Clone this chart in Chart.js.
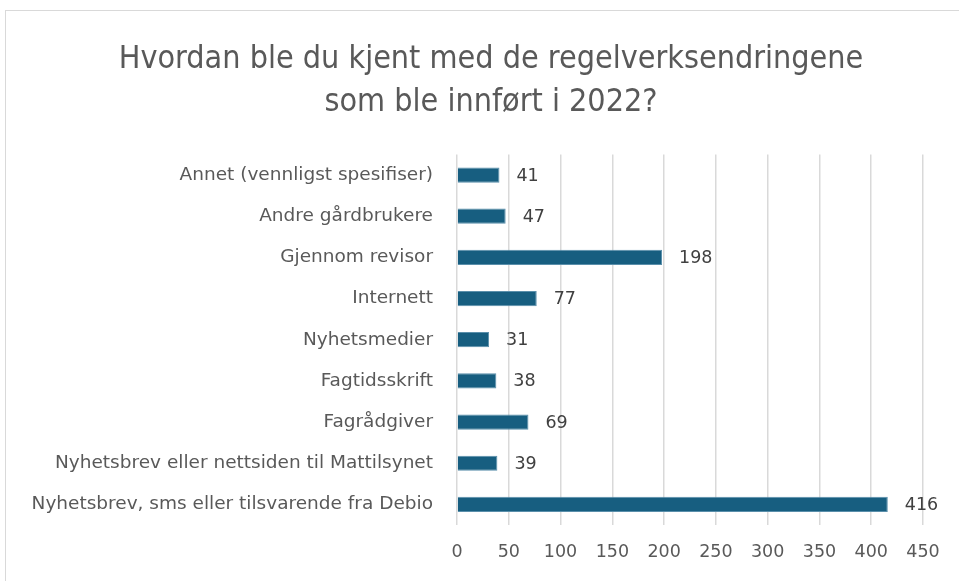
<!DOCTYPE html>
<html>
<head>
<meta charset="utf-8">
<script src="https://cdn.jsdelivr.net/npm/chart.js@4"></script>
<style>
  html, body { margin: 0; padding: 0; background: #fff; }
  #frame { position: absolute; left: 5px; top: 10px; width: 1000px; height: 620px; border: 1px solid #d9d9d9; }
  #wrap { position: absolute; left: 0; top: 0; width: 959px; height: 581px; }
</style>
</head>
<body>
<div id="frame"></div>
<div id="wrap"><canvas id="chart"></canvas></div>
<script>
// kategorier og antall svar
var kategorier = [
    "Annet (vennligst spesifiser)",
    "Andre gårdbrukere",
    "Gjennom revisor",
    "Internett",
    "Nyhetsmedier",
    "Fagtidsskrift",
    "Fagrådgiver",
    "Nyhetsbrev eller nettsiden til Mattilsynet",
    "Nyhetsbrev, sms eller tilsvarende fra Debio"
];
var antall = [41, 47, 198, 77, 31, 38, 69, 39, 416];
var tittel = ["Hvordan ble du kjent med de regelverksendringene", "som ble innført i 2022?"];

var farge = "#175e80";
var tekstFarge = "#595959";
var skrift = "'DejaVu Sans'";

// tegner verdiene til høyre for hver stolpe
var verdiEtiketter = {
    id: "verdiEtiketter",
    afterLayout: function (chart) {
        // etikettene får gå ut i venstre marg (ellers klippes de)
        chart.scales.y.left = 10;
    },
    afterDatasetsDraw: function (chart) {
        var ctx = chart.ctx;
        var meta = chart.getDatasetMeta(0);
        ctx.save();
        ctx.font = "17.5px " + skrift;
        ctx.fillStyle = "#404040";
        ctx.textAlign = "left";
        ctx.textBaseline = "middle";
        meta.data.forEach(function (bar, i) {
            ctx.fillText(String(antall[i]), bar.x + 17, bar.y + 1);
        });
        ctx.restore();
    }
};

var ctx = document.getElementById("chart").getContext("2d");
var chart = new Chart(ctx, {
    type: "bar",
    data: {
        labels: kategorier,
        datasets: [
            {
                data: antall,
                backgroundColor: farge,
                borderColor: "#5a8fab",
                borderWidth: 1,
                barPercentage: 0.37,
                categoryPercentage: 1.0
            }
        ]
    },
    options: {
        indexAxis: "y",
        responsive: true,
        maintainAspectRatio: false,
        animation: false,
        layout: { padding: { top: 39, left: 59, right: 36, bottom: 1 } },
        plugins: {
            legend: { display: false },
            tooltip: { enabled: false },
            title: {
                display: true,
                text: tittel,
                color: tekstFarge,
                font: { family: "'DejaVu Sans Condensed', 'Liberation Sans Narrow', 'Open Sans'", size: 32, weight: "normal", lineHeight: 1.32 },
                padding: { top: 0, bottom: 31 }
            }
        },
        scales: {
            x: {
                min: 0,
                max: 450,
                ticks: { stepSize: 50, color: tekstFarge, font: { family: skrift, size: 17.5 }, padding: 17 },
                grid: { color: "#d9d9d9", lineWidth: 1.5, drawTicks: false },
                border: { display: false }
            },
            y: {
                ticks: { color: tekstFarge, font: { family: skrift, size: 18.5 }, padding: 24 },
                grid: { display: false, drawTicks: false },
                border: { display: false },
                // smalere akse så tittelen blir sentrert som i originalen
                afterFit: function (scale) { scale.width = 398; }
            }
        }
    },
    plugins: [verdiEtiketter]
});
</script>
</body>
</html>
